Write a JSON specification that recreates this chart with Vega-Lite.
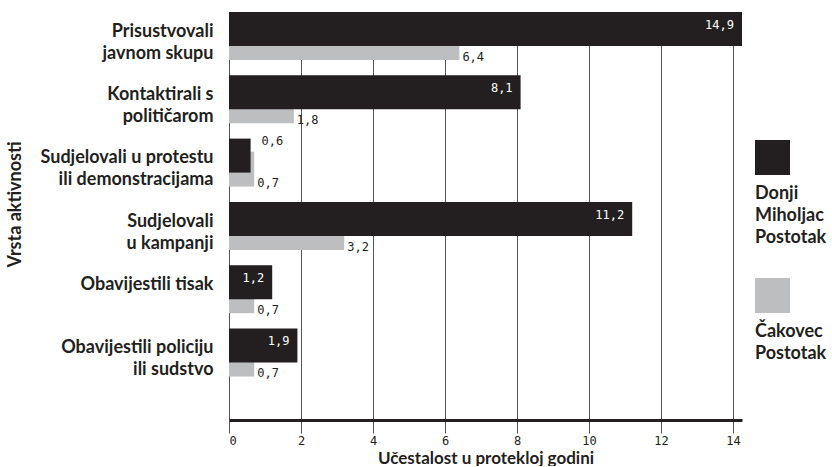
{
  "$schema": "https://vega.github.io/schema/vega-lite/v6.json",
  "padding": {"left": 6, "top": 12, "right": 0, "bottom": 0},
  "spacing": 13,
  "config": {
    "view": {"stroke": null},
    "locale": {"number": {"decimal": ",", "thousands": ".", "grouping": [3], "currency": ["", " kn"]}},
    "concat": {"spacing": 13}
  },
  "datasets": {
    "main": [
      {"activity": "Prisustvovali\njavnom skupu", "series": "Donji Miholjac Postotak", "value": 14.9},
      {"activity": "Prisustvovali\njavnom skupu", "series": "Čakovec Postotak", "value": 6.4},
      {"activity": "Kontaktirali s\npolitičarom", "series": "Donji Miholjac Postotak", "value": 8.1},
      {"activity": "Kontaktirali s\npolitičarom", "series": "Čakovec Postotak", "value": 1.8},
      {"activity": "Sudjelovali u protestu\nili demonstracijama", "series": "Donji Miholjac Postotak", "value": 0.6},
      {"activity": "Sudjelovali u protestu\nili demonstracijama", "series": "Čakovec Postotak", "value": 0.7},
      {"activity": "Sudjelovali\nu kampanji", "series": "Donji Miholjac Postotak", "value": 11.2},
      {"activity": "Sudjelovali\nu kampanji", "series": "Čakovec Postotak", "value": 3.2},
      {"activity": "Obavijestili tisak", "series": "Donji Miholjac Postotak", "value": 1.2},
      {"activity": "Obavijestili tisak", "series": "Čakovec Postotak", "value": 0.7},
      {"activity": "Obavijestili policiju\nili sudstvo", "series": "Donji Miholjac Postotak", "value": 1.9},
      {"activity": "Obavijestili policiju\nili sudstvo", "series": "Čakovec Postotak", "value": 0.7}
    ],
    "legend": [
      {"series": "Donji Miholjac Postotak"},
      {"series": "Čakovec Postotak"}
    ]
  },
  "hconcat": [
    {
      "width": 513,
      "height": 408,
      "data": {"name": "main"},
      "encoding": {
        "y": {
          "field": "activity",
          "type": "nominal",
          "scale": {
            "domain": ["Prisustvovali\njavnom skupu", "Kontaktirali s\npolitičarom", "Sudjelovali u protestu\nili demonstracijama", "Sudjelovali\nu kampanji", "Obavijestili tisak", "Obavijestili policiju\nili sudstvo"],
            "paddingInner": 0,
            "paddingOuter": 0.2226,
            "align": 0
          },
          "axis": {
            "title": "Vrsta aktivnosti",
            "titleFont": "Lato",
            "titleFontWeight": "bold",
            "titleFontSize": 18,
            "titleColor": "#231f20",
            "titleX": -214,
            "titleY": 192,
            "titleBaseline": "middle",
            "titleAngle": 270,
            "domain": false,
            "ticks": false,
            "grid": false,
            "labelPadding": 16,
            "labelOffset": -12,
            "labelFont": "Lato",
            "labelFontWeight": "bold",
            "labelFontSize": 18,
            "labelColor": "#231f20",
            "labelLineHeight": 22,
            "labelLimit": 400,
            "labelExpr": "split(datum.label, '\\n')"
          }
        },
        "x": {
          "field": "value",
          "type": "quantitative",
          "scale": {"domain": [0, 14.25], "nice": false, "clamp": true},
          "axis": {
            "title": "Učestalost u protekloj godini",
            "titleFont": "Lato",
            "titleFontWeight": "bold",
            "titleFontSize": 17,
            "titleColor": "#231f20",
            "titleBaseline": "bottom",
            "titleY": 47,
            "values": [0, 2, 4, 6, 8, 10, 12, 14],
            "grid": true,
            "gridColor": "#555555",
            "gridWidth": 1,
            "domainColor": "#231f20",
            "domainWidth": 3,
            "tickColor": "#555555",
            "tickSize": 13,
            "tickWidth": 1,
            "labelFont": "DejaVu Sans Mono",
            "labelFontSize": 12,
            "labelColor": "#231f20",
            "labelPadding": 2
          }
        }
      },
      "layer": [
        {
          "transform": [{"filter": "datum.series == 'Čakovec Postotak'"}],
          "mark": {"type": "bar", "height": 35, "yOffset": -1.15, "color": "#bcbec0"}
        },
        {
          "transform": [{"filter": "datum.series == 'Donji Miholjac Postotak'"}],
          "mark": {"type": "bar", "height": 34, "yOffset": -14.65, "color": "#231f20"}
        },
        {
          "transform": [{"filter": "datum.series == 'Čakovec Postotak'"}],
          "mark": {"type": "text", "align": "left", "baseline": "middle", "dx": 3, "dy": 13, "font": "DejaVu Sans Mono", "fontSize": 12, "color": "#231f20"},
          "encoding": {"text": {"field": "value", "type": "quantitative", "format": ".1f"}}
        },
        {
          "transform": [{"filter": "datum.series == 'Donji Miholjac Postotak' && datum.value >= 1"}],
          "mark": {"type": "text", "align": "right", "baseline": "middle", "dx": -8, "dy": -19, "font": "DejaVu Sans Mono", "fontSize": 12, "color": "#ffffff"},
          "encoding": {"text": {"field": "value", "type": "quantitative", "format": ".1f"}}
        },
        {
          "transform": [{"filter": "datum.series == 'Donji Miholjac Postotak' && datum.value < 1"}],
          "mark": {"type": "text", "align": "left", "baseline": "middle", "dx": 11, "dy": -29, "font": "DejaVu Sans Mono", "fontSize": 12, "color": "#231f20"},
          "encoding": {"text": {"field": "value", "type": "quantitative", "format": ".1f"}}
        }
      ]
    },
    {
      "width": 35,
      "height": 408,
      "data": {"name": "legend"},
      "encoding": {
        "y": {
          "field": "series",
          "type": "nominal",
          "scale": {"type": "point", "padding": 0, "domain": ["Donji Miholjac Postotak", "Čakovec Postotak"], "range": [145.5, 283.5]},
          "axis": null
        }
      },
      "layer": [
        {
          "mark": {"type": "square", "size": 1225, "opacity": 1, "strokeWidth": 0},
          "encoding": {
            "color": {
              "field": "series",
              "type": "nominal",
              "scale": {"domain": ["Donji Miholjac Postotak", "Čakovec Postotak"], "range": ["#231f20", "#bcbec0"]},
              "legend": null
            }
          }
        },
        {
          "mark": {"type": "text", "align": "left", "baseline": "top", "dx": -17.5, "dy": 27, "lineBreak": " ", "lineHeight": 22, "font": "Lato", "fontWeight": "bold", "fontSize": 18, "color": "#231f20"},
          "encoding": {"text": {"field": "series", "type": "nominal"}}
        }
      ]
    }
  ]
}
